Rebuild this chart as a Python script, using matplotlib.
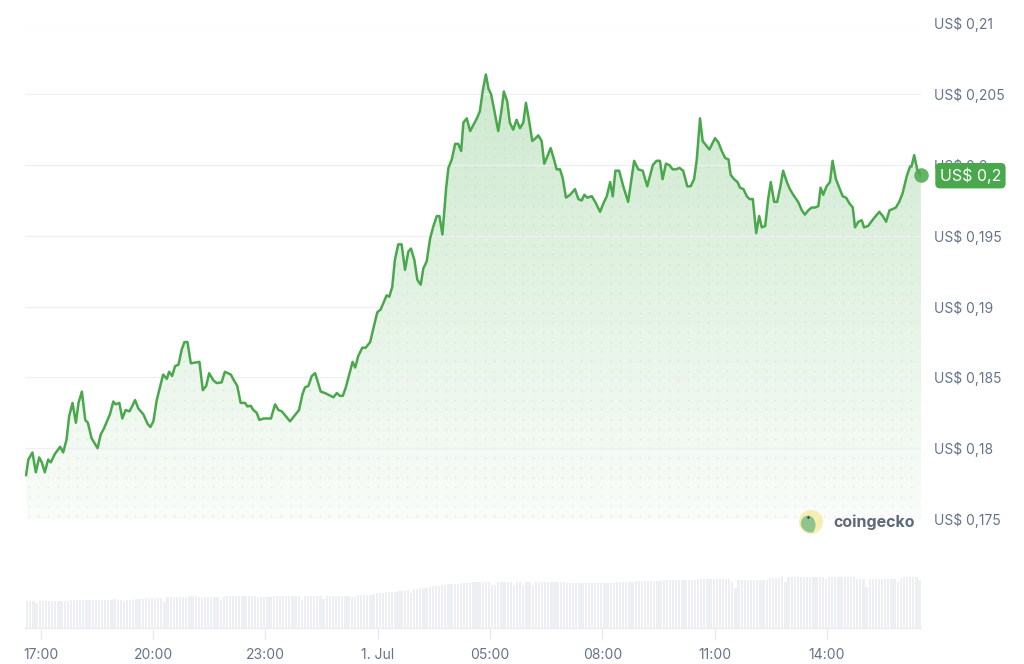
import numpy as np
import matplotlib
matplotlib.use("Agg")
import matplotlib.pyplot as plt
from matplotlib.patches import Circle, Ellipse

plt.rcParams['font.family'] = ['Inter', 'DejaVu Sans']

# price series, time in hours since 30 Jun 00:00 (24 = 1 Jul 00:00)
times = [16.61, 16.67, 16.78, 16.87, 16.96, 17.03, 17.11, 17.20, 17.27, 17.38,
         17.52, 17.60, 17.69, 17.76, 17.85, 17.94, 18.01, 18.10, 18.19, 18.26,
         18.36, 18.52, 18.60, 18.69, 18.85, 18.94, 19.00, 19.10, 19.18, 19.27,
         19.37, 19.45, 19.52, 19.61, 19.74, 19.86, 19.93, 20.01, 20.10, 20.23,
         20.27, 20.37, 20.43, 20.51, 20.59, 20.68, 20.77, 20.84, 20.92, 21.01,
         21.24, 21.33, 21.42, 21.50, 21.61, 21.70, 21.83, 21.92, 22.08, 22.16,
         22.25, 22.34, 22.46, 22.52, 22.61, 22.68, 22.77, 22.84, 22.96, 23.15,
         23.26, 23.35, 23.44, 23.66, 23.90, 23.99, 24.06, 24.15, 24.24, 24.33,
         24.48, 24.59, 24.82, 24.91, 24.99, 25.07, 25.15, 25.26, 25.33, 25.40,
         25.48, 25.59, 25.68, 25.80, 25.88, 25.99, 26.08, 26.24, 26.31, 26.39,
         26.46, 26.55, 26.64, 26.73, 26.82, 26.89, 26.98, 27.06, 27.15, 27.22,
         27.31, 27.40, 27.49, 27.58, 27.65, 27.73, 27.83, 27.89, 27.98, 28.07,
         28.15, 28.23, 28.29, 28.38, 28.47, 28.55, 28.65, 28.73, 28.81, 28.89,
         28.96, 29.03, 29.12, 29.22, 29.31, 29.37, 29.46, 29.53, 29.62, 29.71,
         29.80, 29.89, 29.96, 30.04, 30.13, 30.22, 30.29, 30.38, 30.45, 30.53,
         30.62, 30.71, 30.78, 30.87, 30.94, 31.03, 31.14, 31.27, 31.36, 31.45,
         31.52, 31.60, 31.72, 31.81, 31.94, 32.03, 32.12, 32.21, 32.28, 32.35,
         32.45, 32.56, 32.69, 32.85, 32.96, 33.08, 33.20, 33.35, 33.45, 33.54,
         33.61, 33.70, 33.79, 33.88, 33.97, 34.06, 34.16, 34.27, 34.36, 34.45,
         34.52, 34.61, 34.68, 34.86, 35.01, 35.10, 35.19, 35.28, 35.37, 35.43,
         35.52, 35.61, 35.68, 35.77, 35.86, 35.93, 36.02, 36.11, 36.19, 36.26,
         36.35, 36.43, 36.50, 36.59, 36.67, 36.75, 36.83, 36.93, 37.01, 37.10,
         37.23, 37.33, 37.41, 37.50, 37.59, 37.68, 37.77, 37.83, 37.90, 37.99,
         38.08, 38.15, 38.24, 38.33, 38.42, 38.51, 38.60, 38.69, 38.75, 38.84,
         38.93, 38.99, 39.10, 39.24, 39.40, 39.49, 39.58, 39.67, 39.76, 39.84,
         39.93, 40.02, 40.13, 40.22, 40.26, 40.33, 40.41, 40.51]

prices = [0.1781, 0.1792, 0.1797, 0.1783, 0.17935, 0.1790, 0.1783, 0.1792, 0.1790, 0.1796,
          0.1801, 0.1797, 0.1806, 0.18225, 0.1832, 0.1818, 0.1832, 0.1840, 0.1820, 0.1818,
          0.1807, 0.1800, 0.18095, 0.1814, 0.1824, 0.1833, 0.1831, 0.1832, 0.1821, 0.1827,
          0.1826, 0.1830, 0.1834, 0.1828, 0.1824, 0.1817, 0.1815, 0.1819, 0.1834, 0.1848,
          0.1852, 0.1849, 0.1854, 0.1851, 0.1858, 0.1859, 0.1870, 0.1875, 0.1875, 0.1860,
          0.1861, 0.1841, 0.1844, 0.1853, 0.1848, 0.1846, 0.18465, 0.1854, 0.1852, 0.1848,
          0.1844, 0.1832, 0.1832, 0.18295, 0.1830, 0.1827, 0.1825, 0.1820, 0.1821, 0.1821,
          0.1831, 0.1827, 0.1826, 0.1819, 0.1827, 0.1838, 0.1843, 0.1844, 0.1851, 0.1853,
          0.1840, 0.1839, 0.1836, 0.1839, 0.1837, 0.1837, 0.1843, 0.1854, 0.1861, 0.1857,
          0.1865, 0.1871, 0.1871, 0.1875, 0.1884, 0.1896, 0.1898, 0.1908, 0.1907, 0.1914,
          0.1933, 0.1944, 0.1944, 0.1926, 0.1939, 0.1941, 0.1933, 0.1919, 0.19155, 0.1927,
          0.1932, 0.1948, 0.1957, 0.1964, 0.1964, 0.1951, 0.1984, 0.1998, 0.2004, 0.2015,
          0.2015, 0.2010, 0.2030, 0.2033, 0.2024, 0.2028, 0.2033, 0.2038, 0.2053, 0.2064,
          0.2054, 0.2050, 0.2038, 0.2024, 0.2039, 0.2052, 0.2045, 0.2030, 0.2025, 0.2032,
          0.2026, 0.2030, 0.2044, 0.2032, 0.2017, 0.2019, 0.2021, 0.2017, 0.2001, 0.2006,
          0.2012, 0.2004, 0.1997, 0.1997, 0.1991, 0.1977, 0.1979, 0.1983, 0.1976, 0.1975,
          0.1979, 0.1977, 0.1978, 0.1974, 0.1967, 0.1973, 0.1978, 0.1988, 0.1978, 0.1996,
          0.1996, 0.1985, 0.1974, 0.2003, 0.1997, 0.1996, 0.1985, 0.2000, 0.2003, 0.2003,
          0.1990, 0.2001, 0.2000, 0.1997, 0.1997, 0.1998, 0.1996, 0.1985, 0.1985, 0.1990,
          0.2003, 0.2033, 0.2017, 0.2011, 0.2019, 0.2016, 0.2010, 0.2005, 0.2004, 0.1993,
          0.1990, 0.1988, 0.1984, 0.1983, 0.1978, 0.1976, 0.1976, 0.1952, 0.1964, 0.1956,
          0.1957, 0.1976, 0.1988, 0.1974, 0.1974, 0.1984, 0.1996, 0.1988, 0.1983, 0.1979,
          0.1974, 0.1968, 0.1965, 0.1968, 0.1970, 0.1970, 0.1971, 0.1984, 0.1979, 0.1985,
          0.1988, 0.2003, 0.1990, 0.1984, 0.1978, 0.1977, 0.1973, 0.1970, 0.1956, 0.1960,
          0.1961, 0.1956, 0.1957, 0.1962, 0.1967, 0.1964, 0.1960, 0.1968, 0.1969, 0.1970,
          0.1974, 0.1980, 0.1992, 0.1999, 0.1999, 0.2007, 0.1997, 0.1993]

# volume bars, one every 5 minutes from the first price point (relative units)
volume = [27, 27, 27.5, 25, 27.5, 27, 27, 27.5, 27.5, 27, 27.5, 27.5,
          27.5, 27.5, 28, 28, 28.5, 28.5, 28, 28.5, 28.5, 28, 28.5, 28.5,
          28.5, 28.5, 28, 28.5, 29, 28.5, 28.5, 27.5, 28.5, 28.5, 28.5, 29,
          29, 29.5, 30, 30, 30, 30.5, 30, 30.5, 26, 31, 31, 31,
          31, 31, 31.5, 31, 32, 32.5, 32.5, 31, 30, 31, 31, 31.5,
          31, 31, 28.5, 32, 32.5, 32.5, 32.5, 32, 32.5, 32.5, 32, 32.5,
          32.5, 32.5, 31, 31, 31, 31, 31, 32, 32.5, 32.5, 32.5, 32,
          32.5, 32.5, 32.5, 32, 28, 32.5, 32.5, 32.5, 32.5, 32, 32.5, 29,
          32.5, 32.5, 32.5, 32.5, 32.5, 32, 32.5, 32.5, 31.5, 31.5, 33, 33.5,
          33.5, 33.5, 33.5, 34, 35, 35, 35.5, 36, 36.5, 36.5, 36.5, 37,
          37.5, 37.5, 38, 35.5, 39, 39, 40, 40, 40.5, 41, 42, 42.5,
          42.5, 43, 43.5, 44, 44.5, 44.5, 44.5, 45, 45, 45.5, 45.5, 46,
          46.5, 46.5, 46.5, 46.5, 46.5, 43.5, 43, 46, 46, 46, 46.5, 46,
          43.5, 46.5, 46, 43.5, 46, 46, 43, 46.5, 46.5, 46.5, 46.5, 46.5,
          46.5, 46.5, 46.5, 46.5, 46.5, 45, 45, 45, 45, 45, 45, 45,
          45, 45, 45, 45, 45, 45, 45, 45, 45, 46.5, 46.5, 46.5,
          46.5, 46.5, 46.5, 47.5, 47.5, 47.5, 47.5, 47.5, 47.5, 47.5, 47.5, 47.5,
          48, 48, 48, 48, 48, 48, 48, 48, 48, 48, 48, 49,
          49, 49, 49, 49, 49, 49, 49, 49, 49, 49, 46, 40,
          48, 48, 48, 48, 48, 48, 48.5, 48.5, 48.5, 48.5, 50, 50.5,
          50.5, 50.5, 52, 46.5, 51.5, 51.5, 51.5, 51.5, 51.5, 51.5, 51.5, 51.5,
          51.5, 51.5, 51.5, 51.5, 49.5, 51.5, 51.5, 51.5, 51.5, 51.5, 51.5, 51.5,
          51.5, 51.5, 49, 49, 49, 41, 49.5, 49.5, 49.5, 49.5, 49.5, 49.5,
          49.5, 49.5, 49.5, 46.5, 49.5, 51.5, 51.5, 51.5, 51.5, 51.5, 48]

price_ticks = [0.175, 0.18, 0.185, 0.19, 0.195, 0.2, 0.205, 0.21]
price_labels = ["US$ 0,175", "US$ 0,18", "US$ 0,185", "US$ 0,19",
                "US$ 0,195", "US$ 0,2", "US$ 0,205", "US$ 0,21"]
time_ticks = [17, 20, 23, 26, 29, 32, 35, 38]
time_labels = ["17:00", "20:00", "23:00", "1. Jul", "05:00", "08:00", "11:00", "14:00"]
last_label = "US$ 0,2"

green = "#4aa84c"
label_col = "#65738a"
W, H = 1024, 664
x_lo, x_hi = 16.581, 40.512

fig = plt.figure(figsize=(W / 100, H / 100), dpi=100)
ax = fig.add_axes([25 / W, 1 - 519 / H, 896 / W, 495.5 / H])
ax.set_xlim(x_lo, x_hi)
ax.set_ylim(0.175, 0.21)
for s in ax.spines.values():
    s.set_visible(False)
ax.set_xticks([])

t = np.array(times)
p = np.array(prices)

# grid
for yv in price_ticks:
    ax.axhline(yv, color="#edf0f3", lw=1, zorder=3)

# area fill with vertical gradient + dotted texture
area = ax.fill_between(t, p, 0.175, color="none", lw=0)
clip = (area.get_paths()[0], ax.transData)
grad = np.zeros((200, 2, 4))
grad[..., 0] = 76 / 255
grad[..., 1] = 175 / 255
grad[..., 2] = 80 / 255
grad[..., 3] = np.linspace(0.03, 0.31, 200)[:, None]
im = ax.imshow(grad, extent=(x_lo, x_hi, 0.175, 0.21), origin="lower",
               aspect="auto", zorder=1, interpolation="bilinear")
im.set_clip_path(*clip)
gx, gy = np.meshgrid(np.arange(x_lo + 0.1, x_hi, 0.259),
                     np.arange(0.1752, 0.21, 0.000685))
dots = ax.scatter(gx.ravel(), gy.ravel(), s=2.2, color="#7f9f80", alpha=0.13,
                  lw=0, zorder=2)
dots.set_clip_path(*clip)

ax.plot(t, p, color=green, lw=1.8, solid_joinstyle="round", zorder=4)
ax.scatter([t[-1]], [p[-1]], s=110, color=green, alpha=0.85, lw=0, zorder=5,
           clip_on=False)

ax.yaxis.tick_right()
ax.set_yticks(price_ticks)
ax.set_yticklabels(price_labels)
ax.tick_params(axis="y", length=0, pad=9, labelsize=10, labelcolor=label_col)

ax.annotate(last_label, xy=(1, p[-1]), xycoords=("axes fraction", "data"),
            xytext=(13.5, -0.5), textcoords="offset points", va="center", ha="left",
            fontsize=11.5, color="white", zorder=10,
            bbox=dict(boxstyle="round,pad=0.28,rounding_size=0.3",
                      fc=green, ec="none"))

# volume
axv = fig.add_axes([25 / W, 1 - 628.3 / H, 896 / W, 75.3 / H])
vt = t[0] + np.arange(len(volume)) * 5 / 60
axv.bar(vt, volume, width=3.6 / 60, color="#edeff3", align="edge", lw=0)
axv.set_xlim(x_lo, x_hi)
axv.set_ylim(0, 75.3)
for k in ["top", "right", "left"]:
    axv.spines[k].set_visible(False)
axv.spines["bottom"].set_color("#e8ebef")
axv.set_yticks([])
axv.set_xticks(time_ticks)
axv.set_xticklabels(time_labels)
axv.tick_params(axis="x", length=8, color="#e3e6ea", pad=6, labelsize=10,
                labelcolor=label_col)

# coingecko watermark
ov = fig.add_axes([0, 0, 1, 1], zorder=20)
ov.set_xlim(0, W)
ov.set_ylim(H, 0)
ov.axis("off")
ov.add_patch(Circle((811, 522), 12, fc="#f6eeb2", ec="none"))
rim = Circle((811, 522), 10.5, fc="none", ec="none")
ov.add_patch(rim)
head = Ellipse((808, 525), 15, 19, fc="#8fc48e", ec="none")
ov.add_patch(head)
head.set_clip_path(rim)
ov.add_patch(Circle((808.5, 517.5), 1.3, fc="#3d4a3d", ec="none"))
ov.text(833, 522, "coingecko", fontsize=11.5, fontweight="bold",
        color="#5d6878", va="center", ha="left")

fig.savefig("out.png", dpi=100)
